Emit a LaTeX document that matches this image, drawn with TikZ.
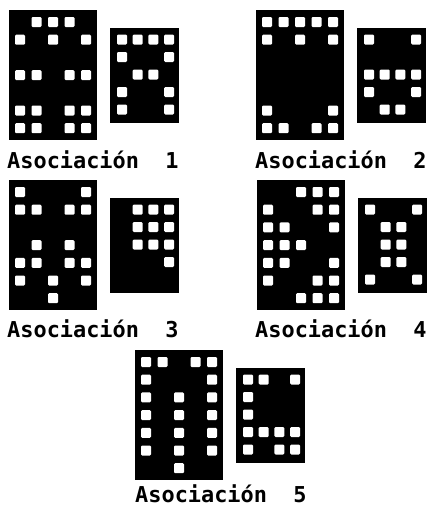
\documentclass[tikz,border=0pt]{standalone}
\usepackage{fontspec}
\usepackage{tikz}
\newfontfamily\dotfont{DejaVu Sans Mono}

\begin{document}
\begin{tikzpicture}[x=1pt,y=-1pt,
  panel/.style={fill=black},
  cell/.style={fill=white,rounded corners=1.2pt},
  caption/.style={anchor=base west,inner sep=0pt,font=\dotfont\bfseries\fontsize{21.9}{24}\selectfont}]
  \useasboundingbox (0,0) rectangle (431,509);

  % Asociacion 1
  \begin{scope}[shift={(9,10)}]
    \fill[panel] (0,0) rectangle (88,130);
    \foreach \r/\cs in {1/{2,3,4},2/{1,3,5},4/{1,2,4,5},6/{1,2,4,5},7/{1,2,4,5}}
      \foreach \c in \cs \fill[cell] ({16.5*\c-10.5},{17.7*\r-10.7}) rectangle ++(10,10);
    \fill[panel] (101,18) rectangle ++(69,95);
    \foreach \r/\cs in {1/{1,2,3,4},2/{1,4},3/{2,3},4/{1,4},5/{1,4}}
      \foreach \c in \cs \fill[cell] ({101+15.7*\c-8.7},{18+17.5*\r-11}) rectangle ++(10,10);
    \node[caption] (lab1) at (-2,158) {Asociación\ \ 1};
  \end{scope}

  % Asociacion 2
  \begin{scope}[shift={(256,10)}]
    \fill[panel] (0,0) rectangle (88,130);
    \foreach \r/\cs in {1/{1,2,3,4,5},2/{1,3,5},6/{1,5},7/{1,2,4,5}}
      \foreach \c in \cs \fill[cell] ({16.5*\c-10.5},{17.7*\r-10.7}) rectangle ++(10,10);
    \fill[panel] (101,18) rectangle ++(69,95);
    \foreach \r/\cs in {1/{1,4},3/{1,2,3,4},4/{1,4},5/{2,3}}
      \foreach \c in \cs \fill[cell] ({101+15.7*\c-8.7},{18+17.5*\r-11}) rectangle ++(10,10);
    \node[caption] (lab2) at (-1,158) {Asociación\ \ 2};
  \end{scope}

  % Asociacion 3
  \begin{scope}[shift={(9,180)}]
    \fill[panel] (0,0) rectangle (88,130);
    \foreach \r/\cs in {1/{1,5},2/{1,2,4,5},4/{2,4},5/{1,2,4,5},6/{1,3,5},7/{3}}
      \foreach \c in \cs \fill[cell] ({16.5*\c-10.5},{17.7*\r-10.7}) rectangle ++(10,10);
    \fill[panel] (101,18) rectangle ++(69,95);
    \foreach \r/\cs in {1/{2,3,4},2/{2,3,4},3/{2,3,4},4/{4}}
      \foreach \c in \cs \fill[cell] ({101+15.7*\c-8.7},{18+17.5*\r-11}) rectangle ++(10,10);
    \node[caption] (lab3) at (-2,157) {Asociación\ \ 3};
  \end{scope}

  % Asociacion 4
  \begin{scope}[shift={(257,180)}]
    \fill[panel] (0,0) rectangle (88,130);
    \foreach \r/\cs in {1/{3,4,5},2/{1,4,5},3/{1,2,5},4/{1,2,3},5/{1,2,5},6/{1,4,5},7/{3,4,5}}
      \foreach \c in \cs \fill[cell] ({16.5*\c-10.5},{17.7*\r-10.7}) rectangle ++(10,10);
    \fill[panel] (101,18) rectangle ++(69,95);
    \foreach \r/\cs in {1/{1,4},2/{2,3},3/{2,3},4/{2,3},5/{1,4}}
      \foreach \c in \cs \fill[cell] ({101+15.7*\c-8.7},{18+17.5*\r-11}) rectangle ++(10,10);
    \node[caption] (lab4) at (-2,157) {Asociación\ \ 4};
  \end{scope}

  % Asociacion 5
  \begin{scope}[shift={(135,350)}]
    \fill[panel] (0,0) rectangle (88,130);
    \foreach \r/\cs in {1/{1,2,4,5},2/{1,5},3/{1,3,5},4/{1,3,5},5/{1,3,5},6/{1,3,5},7/{3}}
      \foreach \c in \cs \fill[cell] ({16.5*\c-10.5},{17.7*\r-10.7}) rectangle ++(10,10);
    \fill[panel] (101,18) rectangle ++(69,95);
    \foreach \r/\cs in {1/{1,2,4},2/{1},3/{1},4/{1,2,3,4},5/{1,3,4}}
      \foreach \c in \cs \fill[cell] ({101+15.7*\c-8.7},{18+17.5*\r-11}) rectangle ++(10,10);
    \node[caption] (lab5) at (0,152) {Asociación\ \ 5};
  \end{scope}
\end{tikzpicture}
\end{document}
